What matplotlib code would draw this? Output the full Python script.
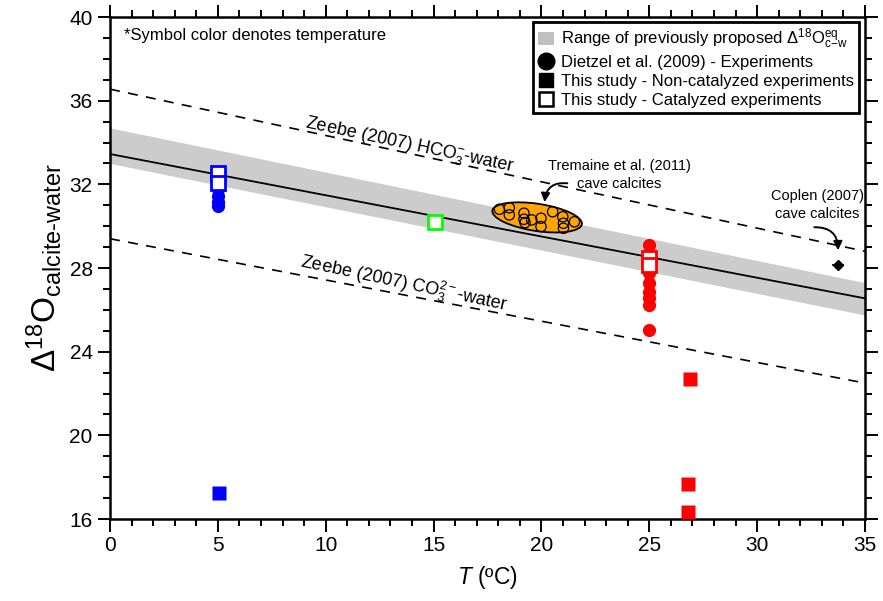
import numpy as np
import matplotlib
matplotlib.use("Agg")
import matplotlib.pyplot as plt
from matplotlib.patches import Ellipse, Patch
from matplotlib.lines import Line2D
from matplotlib.ticker import MultipleLocator

plt.rcParams['font.family'] = ['Liberation Sans', 'DejaVu Sans']
plt.rcParams['mathtext.fontset'] = 'custom'
plt.rcParams['mathtext.rm'] = 'Liberation Sans'
plt.rcParams['mathtext.it'] = 'Liberation Sans:italic'
plt.rcParams['mathtext.bf'] = 'Liberation Sans:bold'

# ---- data ----
line_T = [0, 35]
eq_line = [33.45, 26.55]
band_upper = [34.7, 27.3]
band_lower = [33.0, 25.75]
zeebe_hco3 = [36.55, 28.8]
zeebe_co3 = [29.4, 22.5]

blue_circ_T = [5, 5, 5, 5]
blue_circ_y = [31.8, 31.45, 31.15, 30.95]
blue_open_T = [5, 5]
blue_open_y = [32.54, 32.06]
blue_fill_T = [5.05]
blue_fill_y = [17.25]

green_open_T = [15.05]
green_open_y = [30.2]

red_circ_T = [25, 25, 25, 25, 25, 25, 25, 25]
red_circ_y = [29.1, 28.6, 27.76, 27.28, 26.85, 26.57, 26.23, 25.04]
red_open_T = [25, 25]
red_open_y = [28.48, 28.16]
red_fill_T = [26.9, 26.8, 26.8]
red_fill_y = [22.68, 17.68, 16.35]

tremaine_T = [18.05, 18.51, 18.51, 19.19, 19.19, 19.24, 19.55, 19.98, 19.98,
              20.52, 20.99, 21.02, 21.02, 21.53]
tremaine_y = [30.81, 30.88, 30.54, 30.62, 30.33, 30.17, 30.30, 30.38, 29.98,
              30.69, 30.45, 30.14, 29.90, 30.21]
ellipse_center = (19.8, 30.42)
ellipse_w, ellipse_h, ellipse_angle = 4.2, 1.3, -9

coplen_T = [33.75]
coplen_y = [28.14]
coplen_xerr = [0.3]

xticks = [0, 5, 10, 15, 20, 25, 30, 35]
yticks = [16, 20, 24, 28, 32, 36, 40]

# ---- figure ----
fig = plt.figure(figsize=(8.83, 6.01), dpi=100)
ax = fig.add_axes([0.1246, 0.1364, 0.855, 0.8353])

ax.fill_between(line_T, band_lower, band_upper, color='#cccccc', lw=0, zorder=1)
ax.plot(line_T, eq_line, color='black', lw=1.3, zorder=2)
ax.plot(line_T, zeebe_hco3, color='black', lw=1.2, ls=(0, (6, 5)), zorder=2)
ax.plot(line_T, zeebe_co3, color='black', lw=1.2, ls=(0, (6, 5)), zorder=2)

ell = Ellipse(ellipse_center, ellipse_w, ellipse_h, angle=ellipse_angle,
              facecolor='#ffa500', edgecolor='black', lw=1.3, zorder=3)
ax.add_patch(ell)
ax.scatter(tremaine_T, tremaine_y, s=55, facecolor='none', edgecolor='black',
           lw=0.9, zorder=4)

ms = 9.5
ax.plot(blue_circ_T, blue_circ_y, 'o', color='#0000ff', ms=ms, mec='none', zorder=5)
ax.plot(blue_open_T, blue_open_y, 's', mfc='white', mec='#0000ff', mew=2, ms=ms, zorder=6)
ax.plot(blue_fill_T, blue_fill_y, 's', color='#0000ff', ms=ms, mec='none', zorder=5)
ax.plot(green_open_T, green_open_y, 's', mfc='white', mec='#00ff00', mew=2, ms=ms, zorder=6)
ax.plot(red_circ_T, red_circ_y, 'o', color='#ff0000', ms=ms, mec='none', zorder=5)
ax.plot(red_open_T, red_open_y, 's', mfc='white', mec='#ff0000', mew=2, ms=ms, zorder=6)
ax.plot(red_fill_T, red_fill_y, 's', color='#ff0000', ms=ms, mec='none', zorder=5)

ax.errorbar(coplen_T, coplen_y, xerr=coplen_xerr, fmt='D', color='black', ms=5.5,
            elinewidth=1.2, capsize=0, zorder=6)

# annotations
ax.text(13.9, 33.85, 'Zeebe (2007) HCO$_3^{-}$-water', rotation=-12, fontsize=13,
        ha='center', va='center', rotation_mode='anchor')
ax.text(13.6, 27.25, 'Zeebe (2007) CO$_3^{2-}$-water', rotation=-12, fontsize=13,
        ha='center', va='center', rotation_mode='anchor')
ax.text(23.6, 32.45, 'Tremaine et al. (2011)\ncave calcites', fontsize=10.5,
        ha='center', va='center', linespacing=1.35)
ax.text(32.8, 31.0, 'Coplen (2007)\ncave calcites', fontsize=10.5,
        ha='center', va='center', linespacing=1.35)
ax.annotate('', xy=(20.15, 31.15), xytext=(21.2, 32.05),
            arrowprops=dict(arrowstyle='-|>', color='black', lw=1.4,
                            connectionstyle='arc3,rad=0.5', mutation_scale=13,
                            shrinkA=0, shrinkB=0))
ax.annotate('', xy=(33.75, 28.85), xytext=(32.65, 29.95),
            arrowprops=dict(arrowstyle='-|>', color='black', lw=1.4,
                            connectionstyle='arc3,rad=-0.5', mutation_scale=13,
                            shrinkA=0, shrinkB=0))

ax.text(0.65, 39.1, '*Symbol color denotes temperature', fontsize=12, ha='left', va='center')

# legend
handles = [
    Patch(facecolor='#c0c0c0', edgecolor='none'),
    Line2D([], [], marker='o', ls='none', color='black', ms=12),
    Line2D([], [], marker='s', ls='none', color='black', ms=10.5),
    Line2D([], [], marker='s', ls='none', mfc='white', mec='black', mew=1.8, ms=10.5),
]
labels = [
    r'Range of previously proposed $\Delta^{18}\mathrm{O}^{\mathrm{eq}}_{\mathrm{c\!-\!w}}$',
    'Dietzel et al. (2009) - Experiments',
    'This study - Non-catalyzed experiments',
    'This study - Catalyzed experiments',
]
leg = ax.legend(handles, labels, loc='upper right', bbox_to_anchor=(0.992, 0.99),
                fontsize=12, frameon=True, fancybox=False, borderpad=0.3,
                handlelength=1.0, handletextpad=0.4, labelspacing=0.2,
                borderaxespad=0.0, handleheight=0.9)
leg.get_frame().set_edgecolor('black')
leg.get_frame().set_linewidth(2.0)
leg.get_frame().set_alpha(1)

ax.set_xlim(0, 35)
ax.set_ylim(16, 40)
ax.set_xticks(xticks)
ax.set_yticks(yticks)
ax.xaxis.set_minor_locator(MultipleLocator(1))
ax.yaxis.set_minor_locator(MultipleLocator(1))
ax.tick_params(which='both', direction='out', top=True, right=True,
               labeltop=False, labelright=False, labelsize=15, width=1.4,
               colors='black')
ax.tick_params(which='major', length=9)
ax.tick_params(which='minor', length=5)
for sp in ax.spines.values():
    sp.set_linewidth(1.8)

ax.set_xlabel(r'$\it{T}$ (ºC)', fontsize=16.5, labelpad=6)
ax.set_ylabel(r'$\Delta^{18}\mathrm{O}_{\mathrm{calcite\text{-}water}}$', fontsize=24, labelpad=4)

fig.savefig('out.png', dpi=100)
